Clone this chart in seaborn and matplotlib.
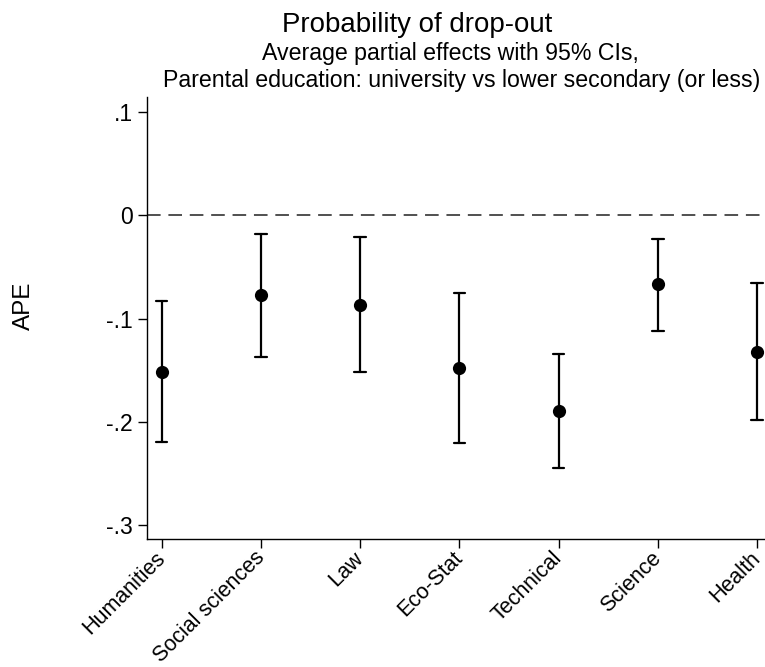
import pandas as pd
import matplotlib
matplotlib.use("Agg")
import matplotlib.pyplot as plt
import matplotlib.transforms as mtransforms
import seaborn as sns

# --- Data ---
FIELDS = ["Humanities", "Social sciences", "Law", "Eco-Stat",
          "Technical", "Science", "Health"]
APE = [-0.152, -0.077, -0.087, -0.148, -0.190, -0.067, -0.132]
CI_LOW = [-0.220, -0.137, -0.152, -0.221, -0.245, -0.112, -0.198]
CI_HIGH = [-0.083, -0.018, -0.021, -0.075, -0.134, -0.023, -0.066]

Y_TICKS = [0.1, 0.0, -0.1, -0.2, -0.3]
Y_TICK_LABELS = [".1", "0", "-.1", "-.2", "-.3"]

TITLE = "Probability of drop-out"
SUBTITLE_1 = "Average partial effects with 95% CIs,"
SUBTITLE_2 = "Parental education: university vs lower secondary (or less)"

# long table: low / estimate / high per field, so median = APE and
# the 0-100 percentile interval = the CI
rows = []
for f, lo, est, hi in zip(FIELDS, CI_LOW, APE, CI_HIGH):
    for v in (lo, est, hi):
        rows.append({"field": f, "value": v})
df = pd.DataFrame(rows)

# --- Style ---
sns.set_style("ticks")
plt.rcParams["font.family"] = ["Liberation Sans", "DejaVu Sans"]
plt.rcParams["text.color"] = "black"
plt.rcParams["xtick.color"] = "black"
plt.rcParams["ytick.color"] = "black"

fig = plt.figure(figsize=(7.65, 6.67), dpi=100)
ax = fig.add_axes([0.1918, 0.1919, 0.8082, 0.6631])

ax.axhline(0, color="#505050", linewidth=1.4, linestyle=(0, (7.0, 4.0)), zorder=1)

sns.pointplot(data=df, x="field", y="value", order=FIELDS,
              estimator="median", errorbar=("pi", 100),
              color="black", linestyle="none", markers="o",
              markersize=9.5, markeredgewidth=0,
              capsize=0.115, err_kws={"linewidth": 1.6}, ax=ax)

ax.set_xlim(-0.15, 6.08)
ax.set_ylim(-0.3137, 0.115)
ax.set_yticks(Y_TICKS)
ax.set_yticklabels(Y_TICK_LABELS, fontsize=16.5)
ax.set_xticks(range(len(FIELDS)))
ax.set_xticklabels(FIELDS, fontsize=15.5, rotation=45, ha="right",
                   va="top", rotation_mode="anchor")
ax.tick_params(axis="both", length=6.5, width=1.0, color="black")
ax.tick_params(axis="y", pad=3.6)
ax.tick_params(axis="x", pad=1.0)
ax.set_xlabel("")
ax.set_ylabel("")

# nudge rotated labels so their ends sit just below the tick marks
shift = mtransforms.ScaledTranslation(-7 / 100, 2 / 100, fig.dpi_scale_trans)
for lbl in ax.get_xticklabels():
    lbl.set_transform(lbl.get_transform() + shift)

sns.despine(ax=ax)
for side in ("left", "bottom"):
    ax.spines[side].set_linewidth(1.0)
    ax.spines[side].set_color("black")

fig.text(0.031, 1 - 306 / 667, "APE", rotation=90, fontsize=17.5,
         ha="center", va="center")

fig.text(417 / 765, 1 - 32 / 667, TITLE, fontsize=19.9, ha="center", va="baseline")
fig.text(450 / 765, 1 - 60 / 667, SUBTITLE_1, fontsize=16.7, ha="center", va="baseline")
fig.text(462 / 765, 1 - 87 / 667, SUBTITLE_2, fontsize=16.7, ha="center", va="baseline")

fig.savefig("out.png", dpi=100, facecolor="white")
